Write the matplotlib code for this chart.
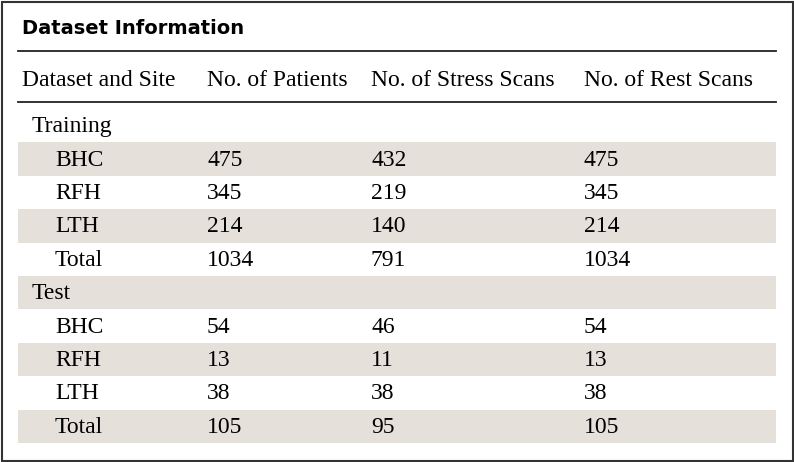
import matplotlib.pyplot as plt
from matplotlib.patches import Rectangle

title = "Dataset Information"
headers = ["Dataset and Site", "No. of Patients", "No. of Stress Scans", "No. of Rest Scans"]

# group name, then site rows
groups = ["Training", "Test"]
sites = ["BHC", "RFH", "LTH", "Total"]
patients = [[475, 345, 214, 1034], [54, 13, 38, 105]]
stress = [[432, 219, 140, 791], [46, 11, 38, 95]]
rest = [[475, 345, 214, 1034], [54, 13, 38, 105]]

W, H = 794, 462
fig = plt.figure(figsize=(W / 100, H / 100), dpi=100)
ax = fig.add_axes([0, 0, 1, 1])
ax.set_xlim(0, W)
ax.set_ylim(H, 0)
ax.axis("off")

serif = "Liberation Serif"
shade = "#e6e0db"
fs = 17
x_left, x_right = 18, 776
col_x = [22, 207, 371, 584]

# outer frame
ax.add_patch(Rectangle((1.5, 1.5), W - 3, H - 3, fill=False, ec="#333333", lw=1.5))

ax.text(22, 29, title, fontsize=14, fontweight="bold", family="DejaVu Sans",
        va="center", ha="left", color="black")
ax.plot([x_left, x_right], [51, 51], color="#222222", lw=1.3)
for x, h in zip(col_x, headers):
    ax.text(x, 81, h, fontsize=fs, family=serif, va="center", ha="left")
ax.plot([x_left, x_right], [102, 102], color="#222222", lw=1.3)

# body rows
rows = []
for g, grp in enumerate(groups):
    rows.append((grp, None))
    for i, s in enumerate(sites):
        rows.append((s, (patients[g][i], stress[g][i], rest[g][i])))

top, rh = 109, 33.4
for r, (label, vals) in enumerate(rows):
    y0 = top + r * rh
    if r % 2 == 1:
        ax.add_patch(Rectangle((x_left, y0), x_right - x_left, rh, color=shade, lw=0))
    yc = y0 + rh / 2 + 1
    if vals is None:
        ax.text(32, yc, label, fontsize=fs, family=serif, va="center", ha="left")
    else:
        ax.text(55, yc, label, fontsize=fs, family=serif, va="center", ha="left")
        for x, v in zip(col_x[1:], vals):
            ax.text(x, yc, str(v), fontsize=fs, family=serif, va="center", ha="left")

fig.savefig("out.png", dpi=100)
